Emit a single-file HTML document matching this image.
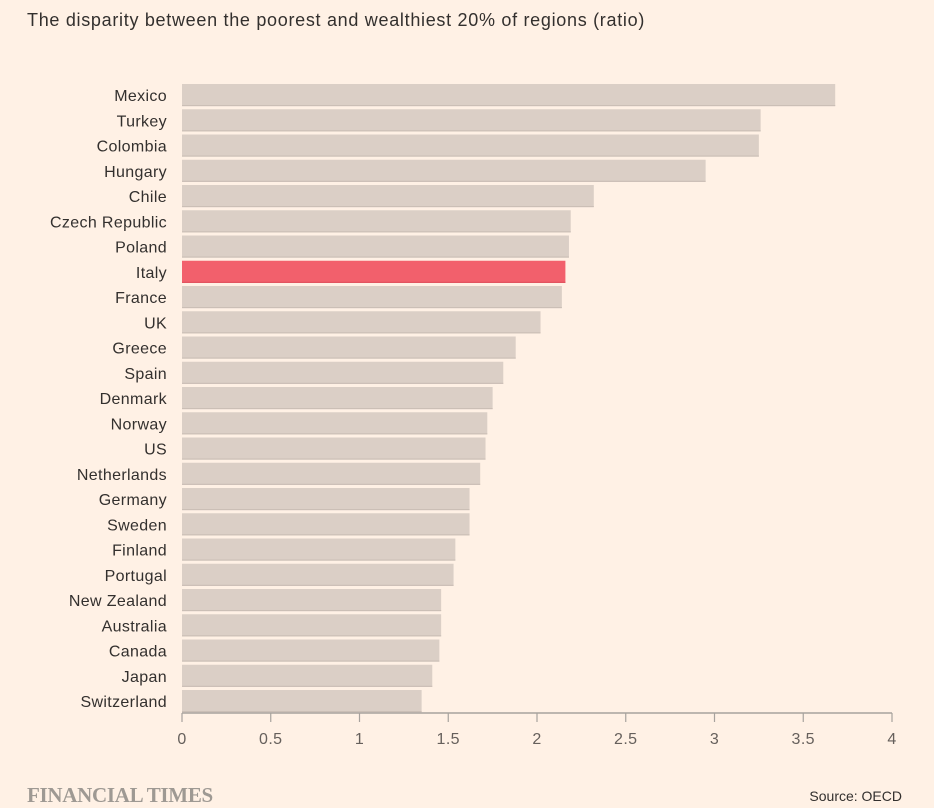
<!DOCTYPE html>
<html><head><meta charset="utf-8"><style>
html,body{margin:0;padding:0;background:#fff1e5;}
body{width:934px;height:808px;overflow:hidden;position:relative;font-family:"Liberation Sans",sans-serif;}
#title{position:absolute;left:27px;top:10px;font-size:18px;color:#33302e;letter-spacing:0.7px;}
#ft{position:absolute;left:27px;top:783px;font-family:"Liberation Serif",serif;font-size:21px;font-weight:bold;color:#9e9993;letter-spacing:-0.3px;}
#src{position:absolute;right:32px;top:788px;font-size:14px;color:#33302e;}
svg{position:absolute;left:0;top:0;}
</style></head><body>
<div id="title">The disparity between the poorest and wealthiest 20% of regions (ratio)</div>
<svg id="chart" width="934" height="808"></svg>
<div id="ft">FINANCIAL TIMES</div>
<div id="src">Source: OECD</div>
<script>
const categories=["Mexico","Turkey","Colombia","Hungary","Chile","Czech Republic","Poland","Italy","France","UK","Greece","Spain","Denmark","Norway","US","Netherlands","Germany","Sweden","Finland","Portugal","New Zealand","Australia","Canada","Japan","Switzerland"];
const values=[3.68,3.26,3.25,2.95,2.32,2.19,2.18,2.16,2.14,2.02,1.88,1.81,1.75,1.72,1.71,1.68,1.62,1.62,1.54,1.53,1.46,1.46,1.45,1.41,1.35];
const highlight=["Italy"];
const ticks=[0,0.5,1,1.5,2,2.5,3,3.5,4];
const NS="http://www.w3.org/2000/svg";
const svg=document.getElementById('chart');
const x=v=>182+v*(892-182)/4;
const yc=i=>95+i*25.25;
function mk(t,a){const e=document.createElementNS(NS,t);for(const k in a)e.setAttribute(k,a[k]);svg.appendChild(e);return e;}
categories.forEach((c,i)=>{
  const hi=highlight.includes(c);
  const r=mk('rect',{x:x(0),y:yc(i)-11,width:x(values[i])-x(0),height:22,fill:hi?'#f2606c':'#dbcfc6'});
  
  
  const s=mk('rect',{x:x(0),y:yc(i)+10,width:x(values[i])-x(0),height:1.2,fill:hi?'#e0505c':'#cbbfb6'});
  
  
  const t=mk('text',{x:167,y:yc(i)+6,'text-anchor':'end','font-size':16,'letter-spacing':0.35,fill:'#33302e','font-family':'Liberation Sans, sans-serif'});
  t.textContent=c;
  
  
});
const ax=mk('line',{x1:x(0),x2:x(4),y1:713,y2:713,stroke:'#a7a29d','stroke-width':1.5});


ticks.forEach(v=>{
  const l=mk('line',{x1:x(v),x2:x(v),y1:713,y2:722,stroke:'#a7a29d','stroke-width':1.2});
  
  
  const t=mk('text',{x:x(v),y:744,'text-anchor':'middle','font-size':16,'letter-spacing':0.4,fill:'#66605c','font-family':'Liberation Sans, sans-serif'});
  t.textContent=String(v);
  
  
});
</script>
</body></html>
